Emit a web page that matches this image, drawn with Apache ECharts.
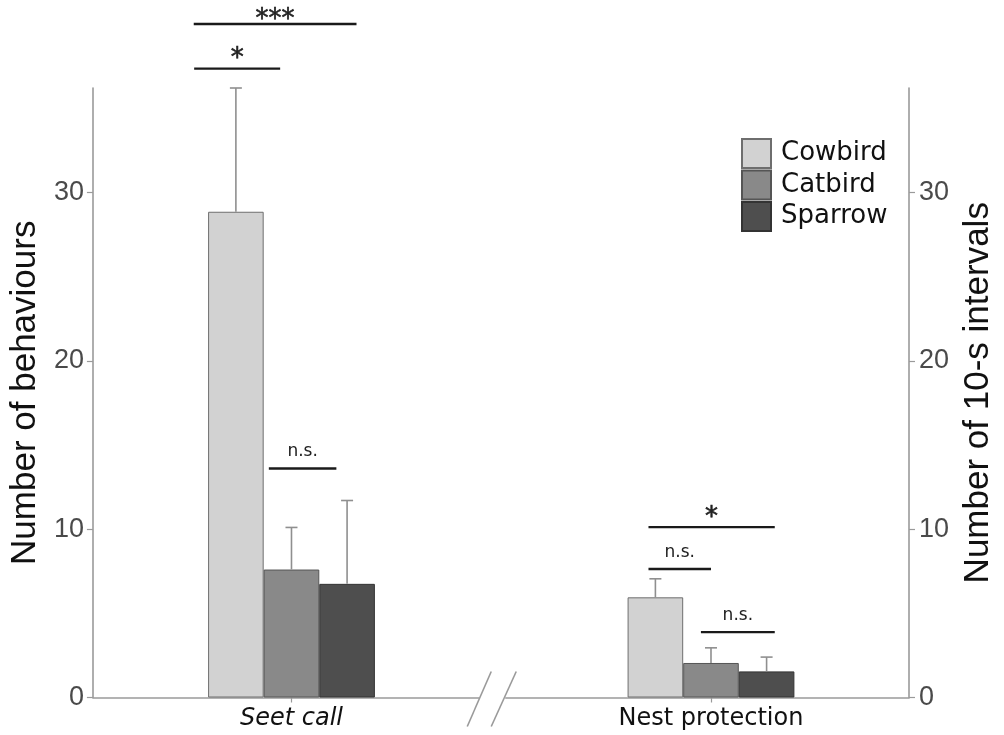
<!DOCTYPE html>
<html>
<head>
<meta charset="utf-8">
<script src="https://cdn.jsdelivr.net/npm/echarts@6/dist/echarts.min.js"></script>
<style>
html,body{margin:0;padding:0;background:#ffffff;}
#chart{width:1004px;height:735px;}
</style>
</head>
<body>
<div id="chart"></div>
<script>
// ---- data ----
const categories = ['Seet call', 'Nest protection'];
const groupX = [1, 2];
const seriesNames = ['Cowbird', 'Catbird', 'Sparrow'];
const cowbird = [28.85, 5.95];
const catbird = [7.6, 2.05];
const sparrow = [6.75, 1.55];
const cowbirdErrTop = [36.2, 7.05];
const catbirdErrTop = [10.1, 2.95];
const sparrowErrTop = [11.7, 2.4];
const yTicks = [0, 10, 20, 30];
// significance brackets: start, end (x units), height (y units), label
const sigStart = [0.767, 0.768, 0.946, 1.851, 1.851, 1.976];
const sigEnd   = [1.155, 0.973, 1.107, 2.152, 2.0, 2.152];
const sigY     = [40.0, 37.35, 13.6, 10.12, 7.63, 3.88];
const sigLabel = ['***', '*', 'n.s.', '*', 'n.s.', 'n.s.'];
const breakAt = 1.5;

// ---- style ----
const FONT = 'DejaVu Sans';
const FONT2 = 'Liberation Sans';
const barW = 55.6;
const fills = ['#d2d2d2', '#898989', '#4e4e4e'];
const borders = ['#6e6e6e', '#555555', '#333333'];
const values = [cowbird, catbird, sparrow];
const errTops = [cowbirdErrTop, catbirdErrTop, sparrowErrTop];

const chart = echarts.init(document.getElementById('chart'), null, {renderer: 'canvas'});

const series = [];
seriesNames.forEach((name, i) => {
  series.push({
    name: name,
    type: 'bar',
    barWidth: barW,
    barGap: '0%',
    data: groupX.map((x, k) => [x, values[i][k]]),
    itemStyle: {color: fills[i], borderColor: borders[i], borderWidth: 1},
    emphasis: {disabled: true},
    z: 2
  });
});
seriesNames.forEach((name, i) => {
  const off = (i - 1) * barW;
  series.push({
    type: 'custom',
    name: name + ' err',
    data: groupX.map((x, k) => [x, values[i][k], errTops[i][k]]),
    renderItem: function (params, api) {
      const b = api.coord([api.value(0), api.value(1)]);
      const t = api.coord([api.value(0), api.value(2)]);
      const px = b[0] + off;
      const st = {stroke: '#8f8f8f', lineWidth: 1.6};
      return {type: 'group', children: [
        {type: 'line', shape: {x1: px, y1: b[1], x2: px, y2: t[1]}, style: st},
        {type: 'line', shape: {x1: px - 6, y1: t[1], x2: px + 6, y2: t[1]}, style: st}
      ]};
    },
    z: 3
  });
});
series.push({
  type: 'custom',
  name: 'sig',
  clip: false,
  data: sigStart.map((s, k) => [s, sigEnd[k], sigY[k]]),
  renderItem: function (params, api) {
    const a = api.coord([api.value(0), api.value(2)]);
    const b = api.coord([api.value(1), api.value(2)]);
    const lab = sigLabel[params.dataIndex];
    const star = lab.indexOf('*') >= 0;
    const dy = lab === '***' ? 9 : (star ? 4 : -8);
    return {type: 'group', children: [
      {type: 'line', shape: {x1: a[0], y1: a[1], x2: b[0], y2: b[1]}, style: {stroke: '#1a1a1a', lineWidth: 2.4}},
      {type: 'text', x: (a[0] + b[0]) / 2, y: a[1] + dy,
       style: {text: lab, fill: '#222', font: (star ? '26px ' : '17px ') + '"' + FONT + '"',
               align: 'center', verticalAlign: 'bottom', stroke: star ? '#222' : null, lineWidth: star ? 0.6 : 0}}
    ]};
  },
  z: 5
});
series.push({
  type: 'custom',
  name: 'break',
  clip: false,
  data: [[breakAt, 0]],
  renderItem: function (params, api) {
    const c = api.coord([api.value(0), api.value(1)]);
    const st = {stroke: '#9a9a9a', lineWidth: 1.6};
    return {type: 'group', children: [
      {type: 'rect', shape: {x: c[0] - 22, y: c[1] - 2, width: 26, height: 4}, style: {fill: '#ffffff'}},
      {type: 'line', shape: {x1: c[0] - 34, y1: c[1] + 29, x2: c[0] - 10, y2: c[1] - 26}, style: st},
      {type: 'line', shape: {x1: c[0] - 10, y1: c[1] + 29, x2: c[0] + 15, y2: c[1] - 26}, style: st}
    ]};
  },
  z: 6
});

const yAxisCommon = {
  type: 'value', min: 0, max: 36.2, interval: 10,
  nameLocation: 'middle',
  nameTextStyle: {fontFamily: FONT2, fontSize: 35, color: '#111'},
  axisLine: {show: true, lineStyle: {color: '#9a9a9a', width: 1.6}},
  axisTick: {show: true, length: 6, customValues: yTicks, lineStyle: {color: '#9a9a9a', width: 1.2}},
  axisLabel: {customValues: yTicks, fontFamily: FONT2, fontSize: 27, color: '#4a4a4a'},
  splitLine: {show: false}
};

chart.setOption({
  animation: false,
  backgroundColor: '#ffffff',
  grid: {left: 91, right: 93, top: 88, bottom: 37.5, containLabel: false},
  legend: {
    data: seriesNames,
    orient: 'vertical',
    left: 741, top: 138,
    padding: 0,
    itemWidth: 29, itemHeight: 29, itemGap: 0.5,
    icon: 'rect',
    selectedMode: false,
    textStyle: {fontFamily: FONT, fontSize: 26, color: '#111', padding: [0, 0, 0, 5], lineHeight: 26}
  },
  xAxis: {
    type: 'value', min: 0.5267, max: 2.472,
    axisLine: {show: true, lineStyle: {color: '#9a9a9a', width: 1.6}},
    axisTick: {show: true, customValues: groupX, length: 5, lineStyle: {color: '#9a9a9a', width: 1.2}},
    axisLabel: {
      customValues: groupX, margin: 9,
      formatter: function (v) { return Math.abs(v - 1) < 1e-6 ? '{i|' + categories[0] + '}' : '{n|' + categories[1] + '}'; },
      rich: {
        i: {fontFamily: FONT, fontSize: 24, fontStyle: 'italic', color: '#111'},
        n: {fontFamily: FONT, fontSize: 24, color: '#111'}
      }
    },
    splitLine: {show: false}
  },
  yAxis: [
    Object.assign({}, yAxisCommon, {position: 'left', name: 'Number of behaviours', nameGap: 46,
      axisLabel: Object.assign({}, yAxisCommon.axisLabel, {margin: 9})}),
    Object.assign({}, yAxisCommon, {position: 'right', name: 'Number of 10-s intervals', nameGap: 52,
      axisLabel: Object.assign({}, yAxisCommon.axisLabel, {margin: 10})})
  ],
  series: series
});
</script>
</body>
</html>
